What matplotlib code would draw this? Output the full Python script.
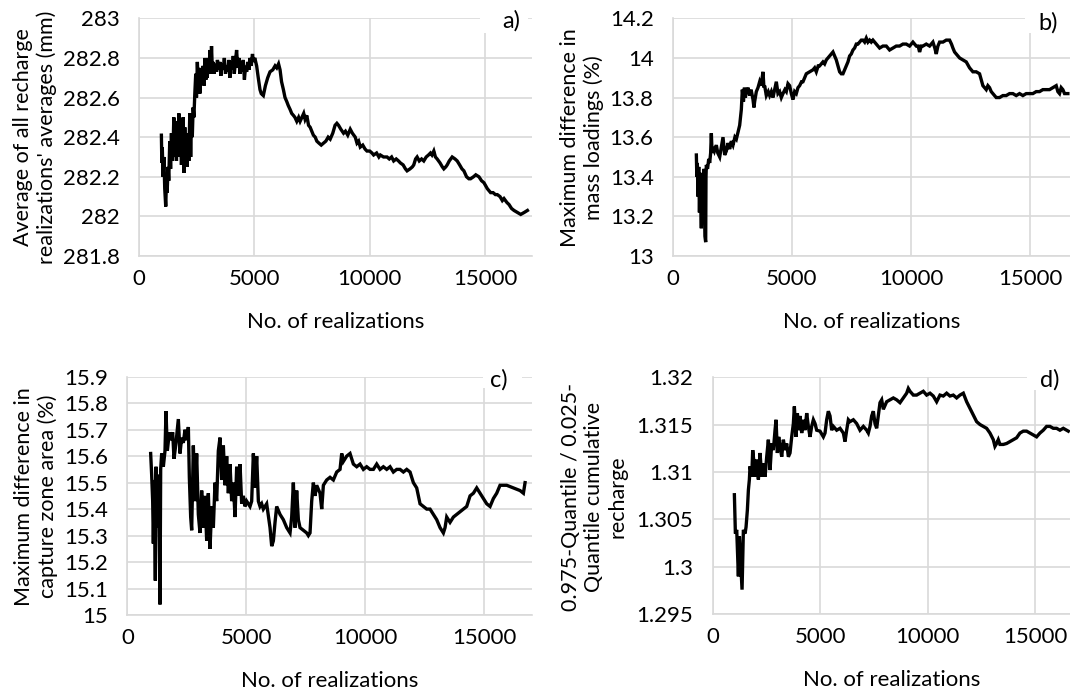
import matplotlib
matplotlib.use('Agg')
import matplotlib.pyplot as plt
from matplotlib.patches import Rectangle

# a) average of all recharge realizations' averages (mm)
real_a = [971, 990, 1010, 1043, 1080, 1116, 1159, 1188, 1220, 1261, 1290, 1333, 1370, 1406, 1440,
          1478, 1510, 1550, 1590, 1623, 1660, 1695, 1730, 1768, 1800, 1840, 1880, 1913, 1950, 1985,
          2020, 2058, 2090, 2130, 2160, 2202, 2240, 2275, 2310, 2347, 2380, 2420, 2460, 2492, 2530,
          2565, 2600, 2637, 2680, 2720, 2782, 2820, 2860, 2900, 2927, 2960, 3000, 3040, 3072, 3110,
          3144, 3180, 3217, 3260, 3300, 3362, 3400, 3450, 3507, 3550, 3600, 3651, 3700, 3750, 3796,
          3850, 3900, 3941, 3990, 4040, 4086, 4130, 4180, 4231, 4280, 4330, 4376, 4420, 4470, 4521,
          4570, 4620, 4666, 4720, 4770, 4811, 4860, 4920, 4956, 5020, 5100, 5170, 5245, 5300, 5390,
          5480, 5580, 5680, 5800, 5900, 5970, 6050, 6115, 6180, 6260, 6330, 6405, 6470, 6550, 6620,
          6694, 6760, 6840, 6920, 6984, 7060, 7140, 7200, 7274, 7350, 7420, 7491, 7560, 7640, 7709,
          7800, 7900, 7998, 8100, 8200, 8288, 8400, 8500, 8578, 8650, 8750, 8868, 8950, 9050, 9158,
          9250, 9375, 9450, 9520, 9592, 9700, 9800, 9882, 10000, 10100, 10172, 10300, 10400, 10462,
          10600, 10752, 10850, 10950, 11041, 11150, 11250, 11331, 11450, 11550, 11621, 11750, 11850,
          11911, 11990, 12056, 12150, 12250, 12345, 12450, 12550, 12635, 12700, 12780, 12850, 12925,
          13050, 13150, 13215, 13300, 13360, 13450, 13577, 13700, 13794, 13900, 14000, 14084, 14200,
          14300, 14374, 14500, 14600, 14736, 14850, 14954, 15100, 15243, 15350, 15450, 15533, 15650,
          15750, 15823, 15950, 16040, 16150, 16258, 16400, 16548, 16700, 16838]
avg_a = [282.41, 282.27, 282.35, 282.20, 282.30, 282.14, 282.05, 282.17, 282.12, 282.25, 282.18,
         282.38, 282.24, 282.42, 282.28, 282.35, 282.50, 282.30, 282.45, 282.28, 282.48, 282.33,
         282.52, 282.30, 282.42, 282.26, 282.36, 282.50, 282.22, 282.45, 282.30, 282.38, 282.25,
         282.42, 282.28, 282.52, 282.30, 282.48, 282.40, 282.55, 282.50, 282.62, 282.72, 282.60,
         282.78, 282.67, 282.75, 282.62, 282.74, 282.70, 282.76, 282.66, 282.80, 282.69, 282.78,
         282.70, 282.80, 282.72, 282.84, 282.72, 282.86, 282.74, 282.78, 282.72, 282.77, 282.73,
         282.79, 282.74, 282.78, 282.71, 282.77, 282.74, 282.80, 282.72, 282.76, 282.73, 282.79,
         282.70, 282.78, 282.74, 282.81, 282.72, 282.78, 282.84, 282.75, 282.80, 282.72, 282.78,
         282.73, 282.79, 282.69, 282.76, 282.73, 282.78, 282.74, 282.80, 282.76, 282.82, 282.78,
         282.80, 282.76, 282.70, 282.64, 282.62, 282.61, 282.66, 282.70, 282.73, 282.74, 282.76,
         282.75, 282.77, 282.74, 282.68, 282.64, 282.60, 282.58, 282.56, 282.54, 282.52, 282.51,
         282.50, 282.48, 282.50, 282.48, 282.50, 282.52, 282.49, 282.51, 282.46, 282.45, 282.43,
         282.41, 282.40, 282.38, 282.37, 282.36, 282.37, 282.38, 282.40, 282.39, 282.42, 282.46,
         282.47, 282.46, 282.44, 282.42, 282.43, 282.41, 282.44, 282.42, 282.40, 282.37, 282.38,
         282.35, 282.36, 282.34, 282.33, 282.33, 282.32, 282.31, 282.32, 282.30, 282.31, 282.30,
         282.30, 282.29, 282.30, 282.28, 282.29, 282.28, 282.27, 282.26, 282.24, 282.23, 282.24,
         282.25, 282.26, 282.29, 282.30, 282.28, 282.29, 282.28, 282.30, 282.31, 282.32, 282.31,
         282.33, 282.30, 282.29, 282.27, 282.25, 282.24, 282.25, 282.26, 282.28, 282.30, 282.29,
         282.28, 282.26, 282.24, 282.23, 282.20, 282.19, 282.19, 282.20, 282.21, 282.20, 282.18,
         282.17, 282.14, 282.12, 282.12, 282.11, 282.11, 282.10, 282.08, 282.09, 282.07, 282.06,
         282.04, 282.03, 282.02, 282.01, 282.02, 282.03]

# b) maximum difference in mass loadings (%)
real_b = [980, 1000, 1020, 1050, 1080, 1110, 1140, 1190, 1220, 1260, 1300, 1340, 1372, 1385, 1400,
          1450, 1500, 1540, 1580, 1610, 1640, 1680, 1740, 1820, 1880, 1960, 2030, 2100, 2170, 2240,
          2310, 2380, 2450, 2520, 2600, 2660, 2740, 2800, 2870, 2912, 2960, 3000, 3040, 3080, 3150,
          3220, 3280, 3360, 3400, 3430, 3500, 3570, 3640, 3700, 3780, 3820, 3850, 3920, 4000, 4060,
          4130, 4200, 4270, 4340, 4410, 4480, 4550, 4620, 4700, 4760, 4830, 4900, 4970, 5040, 5110,
          5180, 5250, 5320, 5400, 5460, 5530, 5600, 5740, 5880, 5950, 6020, 6100, 6160, 6230, 6300,
          6370, 6440, 6510, 6580, 6650, 6720, 6790, 6860, 6930, 7000, 7070, 7140, 7210, 7280, 7350,
          7420, 7490, 7560, 7630, 7700, 7770, 7840, 7910, 7980, 8050, 8120, 8190, 8260, 8330, 8400,
          8540, 8680, 8820, 8960, 9100, 9240, 9380, 9520, 9660, 9800, 9940, 10080, 10220, 10300,
          10360, 10430, 10500, 10640, 10780, 10920, 11000, 11060, 11130, 11200, 11340, 11480, 11620,
          11700, 11760, 11830, 11900, 11970, 12040, 12180, 12320, 12460, 12600, 12740, 12880, 12950,
          13020, 13090, 13160, 13230, 13300, 13370, 13440, 13580, 13720, 13860, 14000, 14140, 14280,
          14420, 14560, 14700, 14840, 14980, 15120, 15260, 15400, 15540, 15680, 15820, 15960, 16100,
          16170, 16240, 16310, 16380, 16450, 16590]
diff_b = [13.51, 13.40, 13.47, 13.30, 13.45, 13.22, 13.42, 13.14, 13.40, 13.25, 13.44, 13.10, 13.07,
          13.40, 13.46, 13.44, 13.49, 13.47, 13.52, 13.62, 13.52, 13.55, 13.53, 13.56, 13.52, 13.50,
          13.55, 13.60, 13.51, 13.53, 13.57, 13.54, 13.58, 13.56, 13.60, 13.59, 13.63, 13.66, 13.74,
          13.84, 13.78, 13.85, 13.80, 13.83, 13.85, 13.81, 13.84, 13.79, 13.75, 13.78, 13.83, 13.85,
          13.88, 13.86, 13.93, 13.85, 13.86, 13.81, 13.83, 13.81, 13.83, 13.80, 13.84, 13.88, 13.82,
          13.83, 13.80, 13.82, 13.84, 13.83, 13.87, 13.86, 13.82, 13.79, 13.83, 13.82, 13.85, 13.86,
          13.88, 13.88, 13.90, 13.92, 13.93, 13.94, 13.95, 13.93, 13.96, 13.96, 13.97, 13.98, 13.97,
          13.99, 14.00, 14.01, 14.02, 14.03, 14.01, 13.99, 13.96, 13.93, 13.92, 13.92, 13.94, 13.96,
          13.98, 14.01, 14.02, 14.04, 14.05, 14.07, 14.07, 14.08, 14.09, 14.09, 14.08, 14.10, 14.08,
          14.09, 14.08, 14.09, 14.07, 14.05, 14.06, 14.06, 14.04, 14.05, 14.06, 14.06, 14.07, 14.07,
          14.06, 14.08, 14.06, 14.06, 14.03, 14.06, 14.06, 14.07, 14.06, 14.08, 14.05, 14.02, 14.06,
          14.08, 14.08, 14.09, 14.09, 14.07, 14.05, 14.03, 14.02, 14.01, 14.00, 13.99, 13.98, 13.95,
          13.93, 13.93, 13.92, 13.89, 13.86, 13.85, 13.84, 13.86, 13.85, 13.83, 13.82, 13.80, 13.80,
          13.81, 13.81, 13.82, 13.82, 13.81, 13.82, 13.81, 13.82, 13.82, 13.82, 13.83, 13.83, 13.84,
          13.84, 13.84, 13.85, 13.86, 13.83, 13.82, 13.85, 13.84, 13.82, 13.82]

# c) maximum difference in capture zone area (%)
real_c = [981, 1023, 1066, 1094, 1136, 1178, 1206, 1262, 1318, 1374, 1402, 1444, 1514, 1584, 1626,
          1682, 1767, 1823, 1907, 1963, 2047, 2145, 2215, 2285, 2355, 2425, 2496, 2566, 2608, 2664,
          2706, 2776, 2846, 2916, 2986, 3056, 3126, 3197, 3267, 3337, 3407, 3477, 3547, 3617, 3687,
          3757, 3827, 3898, 3968, 4038, 4108, 4178, 4248, 4318, 4388, 4458, 4528, 4599, 4669, 4739,
          4809, 4879, 4949, 5019, 5159, 5229, 5300, 5370, 5440, 5510, 5580, 5650, 5720, 5860, 6001,
          6071, 6141, 6211, 6281, 6421, 6561, 6702, 6842, 6912, 6982, 7052, 7122, 7192, 7262, 7403,
          7543, 7613, 7683, 7753, 7823, 7893, 7963, 8104, 8174, 8244, 8384, 8524, 8664, 8805, 8945,
          9015, 9085, 9225, 9365, 9506, 9646, 9786, 9926, 10066, 10207, 10347, 10487, 10627, 10767,
          10908, 11048, 11188, 11328, 11468, 11609, 11749, 11889, 12029, 12169, 12310, 12450, 12590,
          12730, 12870, 13011, 13151, 13291, 13361, 13431, 13571, 13712, 13852, 13992, 14132, 14272,
          14413, 14553, 14693, 14833, 14973, 15114, 15254, 15394, 15534, 15674, 15954, 16235, 16516,
          16656, 16726]
diff_c = [15.61, 15.53, 15.43, 15.27, 15.51, 15.13, 15.56, 15.33, 15.53, 15.04, 15.55, 15.61, 15.56,
          15.62, 15.77, 15.62, 15.69, 15.66, 15.69, 15.59, 15.65, 15.74, 15.61, 15.67, 15.65, 15.70,
          15.66, 15.71, 15.52, 15.37, 15.32, 15.64, 15.43, 15.61, 15.38, 15.31, 15.47, 15.33, 15.45,
          15.28, 15.46, 15.25, 15.41, 15.33, 15.50, 15.43, 15.62, 15.67, 15.51, 15.64, 15.49, 15.60,
          15.46, 15.57, 15.43, 15.50, 15.37, 15.56, 15.45, 15.57, 15.42, 15.45, 15.41, 15.43, 15.41,
          15.43, 15.61, 15.48, 15.60, 15.43, 15.41, 15.42, 15.40, 15.42, 15.33, 15.26, 15.28, 15.35,
          15.41, 15.38, 15.36, 15.33, 15.31, 15.37, 15.50, 15.33, 15.47, 15.36, 15.33, 15.32, 15.31,
          15.30, 15.31, 15.43, 15.50, 15.45, 15.49, 15.46, 15.40, 15.49, 15.51, 15.52, 15.51, 15.54,
          15.55, 15.61, 15.58, 15.60, 15.61, 15.57, 15.56, 15.57, 15.55, 15.56, 15.55, 15.55, 15.57,
          15.55, 15.56, 15.55, 15.56, 15.54, 15.55, 15.55, 15.54, 15.55, 15.54, 15.50, 15.48, 15.42,
          15.41, 15.40, 15.40, 15.38, 15.36, 15.33, 15.31, 15.33, 15.37, 15.35, 15.37, 15.38, 15.39,
          15.40, 15.41, 15.45, 15.46, 15.48, 15.46, 15.44, 15.42, 15.41, 15.44, 15.46, 15.49, 15.49,
          15.48, 15.47, 15.46, 15.50]

# d) 0.975-quantile / 0.025-quantile cumulative recharge
real_d = [1008, 1055, 1117, 1194, 1241, 1303, 1365, 1427, 1504, 1551, 1613, 1660, 1706, 1737, 1815,
          1861, 1923, 1970, 2047, 2125, 2202, 2280, 2358, 2435, 2513, 2590, 2668, 2745, 2823, 2900,
          2947, 3009, 3071, 3133, 3211, 3288, 3366, 3443, 3521, 3598, 3676, 3753, 3800, 3878, 3940,
          4002, 4064, 4141, 4219, 4296, 4374, 4451, 4529, 4606, 4684, 4762, 4839, 4994, 5149, 5227,
          5304, 5382, 5460, 5537, 5615, 5770, 5925, 6080, 6157, 6235, 6313, 6390, 6545, 6700, 6855,
          7011, 7166, 7243, 7321, 7398, 7476, 7553, 7631, 7708, 7786, 7864, 7941, 8096, 8251, 8406,
          8562, 8717, 8872, 9027, 9104, 9182, 9337, 9492, 9647, 9802, 9957, 10113, 10268, 10423,
          10578, 10733, 10888, 11043, 11198, 11353, 11509, 11664, 11819, 11974, 12129, 12284, 12439,
          12594, 12749, 12904, 13060, 13137, 13215, 13292, 13370, 13525, 13680, 13835, 13990, 14145,
          14300, 14455, 14611, 14766, 14921, 15076, 15231, 15386, 15541, 15696, 15851, 16006, 16162,
          16317, 16472, 16549]
ratio_d = [1.3076, 1.3035, 1.3039, 1.2990, 1.3032, 1.3004, 1.2976, 1.3039, 1.3035, 1.3042, 1.3060,
           1.3081, 1.3092, 1.3106, 1.3095, 1.3123, 1.3109, 1.3095, 1.3113, 1.3092, 1.3120, 1.3095,
           1.3109, 1.3095, 1.3116, 1.3134, 1.3102, 1.3130, 1.3123, 1.3144, 1.3155, 1.3120, 1.3137,
           1.3127, 1.3116, 1.3134, 1.3123, 1.3130, 1.3116, 1.3120, 1.3137, 1.3151, 1.3169, 1.3137,
           1.3162, 1.3144, 1.3159, 1.3141, 1.3155, 1.3144, 1.3162, 1.3148, 1.3137, 1.3148, 1.3155,
           1.3151, 1.3144, 1.3143, 1.3137, 1.3141, 1.3155, 1.3164, 1.3159, 1.3144, 1.3148, 1.3144,
           1.3146, 1.3141, 1.3132, 1.3144, 1.3155, 1.3153, 1.3155, 1.3151, 1.3144, 1.3148, 1.3144,
           1.3141, 1.3148, 1.3159, 1.3164, 1.3151, 1.3146, 1.3159, 1.3173, 1.3176, 1.3166, 1.3174,
           1.3176, 1.3178, 1.3176, 1.3173, 1.3178, 1.3183, 1.3188, 1.3185, 1.3181, 1.3181, 1.3183,
           1.3185, 1.3181, 1.3183, 1.3180, 1.3174, 1.3181, 1.3180, 1.3183, 1.3180, 1.3181, 1.3178,
           1.3181, 1.3183, 1.3174, 1.3167, 1.3160, 1.3153, 1.3150, 1.3148, 1.3146, 1.3141, 1.3134,
           1.3127, 1.3130, 1.3134, 1.3129, 1.3129, 1.3130, 1.3132, 1.3134, 1.3136, 1.3141, 1.3143,
           1.3143, 1.3141, 1.3139, 1.3137, 1.3141, 1.3144, 1.3148, 1.3148, 1.3146, 1.3146, 1.3144,
           1.3146, 1.3144, 1.3143]

x_ticks = [0, 5000, 10000, 15000]
x_label = 'No. of realizations'

panels = [
    # axes rect, x data, y data, xlim, ylim, yticks, ytick labels, ylabel, ylabel pos, tag, tag pos, mask rect
    ([0.1299, 0.6311, 0.3673, 0.3425], real_a, avg_a, 17037, (281.8, 283.0),
     [281.8, 282.0, 282.2, 282.4, 282.6, 282.8, 283.0],
     ['281.8', '282', '282.2', '282.4', '282.6', '282.8', '283'],
     "Average of all recharge\nrealizations' averages (mm)", (0.033, 0.802),
     'a)', (0.947, 0.99), (0.868, 0.938, 0.122, 0.1)),
    ([0.6290, 0.6311, 0.3710, 0.3425], real_b, diff_b, 16680, (13.0, 14.2),
     [13.0, 13.2, 13.4, 13.6, 13.8, 14.0, 14.2],
     ['13', '13.2', '13.4', '13.6', '13.8', '14', '14.2'],
     'Maximum difference in\nmass loadings (%)', (0.544, 0.802),
     'b)', (0.945, 0.98), (0.887, 0.94, 0.12, 0.1)),
    ([0.1190, 0.1138, 0.3782, 0.3434], real_c, diff_c, 17018, (15.0, 15.9),
     [15.0, 15.1, 15.2, 15.3, 15.4, 15.5, 15.6, 15.7, 15.8, 15.9],
     ['15', '15.1', '15.2', '15.3', '15.4', '15.5', '15.6', '15.7', '15.8', '15.9'],
     'Maximum difference in\ncapture zone area (%)', (0.034, 0.285),
     'c)', (0.919, 0.986), (0.879, 0.953, 0.096, 0.1)),
    ([0.6661, 0.1148, 0.3339, 0.3419], real_d, ratio_d, 16630, (1.295, 1.32),
     [1.295, 1.3, 1.305, 1.31, 1.315, 1.32],
     ['1.295', '1.3', '1.305', '1.31', '1.315', '1.32'],
     '0.975-Quantile / 0.025-\nQuantile cumulative\nrecharge', (0.555, 0.284),
     'd)', (0.944, 0.987), (0.88, 0.945, 0.13, 0.1)),
]

plt.rcParams['font.family'] = ['Lato', 'DejaVu Sans']
grid_col = '#d9d9d9'

fig = plt.figure(figsize=(10.7, 6.94), dpi=100)
for rect, xs, ys, xmax, ylim, yticks, ylabels, ylab, ylab_pos, tag, tag_pos, mask in panels:
    ax = fig.add_axes(rect)
    ax.plot(xs, ys, color='black', linewidth=2.4, solid_joinstyle='miter')
    ax.set_xlim(0, xmax)
    ax.set_ylim(*ylim)
    ax.set_xticks(x_ticks)
    ax.set_xticklabels([str(t) for t in x_ticks])
    ax.set_yticks(yticks)
    ax.set_yticklabels(ylabels)
    ax.tick_params(length=0, labelsize=16, colors='black')
    ax.tick_params(axis='y', pad=14)
    ax.tick_params(axis='x', pad=9)
    ax.grid(True, color=grid_col, linewidth=1.2)
    ax.set_axisbelow(True)
    for side in ['top', 'right']:
        ax.spines[side].set_visible(False)
    for side in ['left', 'bottom']:
        ax.spines[side].set_color(grid_col)
        ax.spines[side].set_linewidth(1.2)
    ax.set_xlabel(x_label, fontsize=16, labelpad=17)
    fig.text(ylab_pos[0], ylab_pos[1], ylab, rotation=90, ha='center', va='center',
             multialignment='center', fontsize=15.5, linespacing=1.2)
    ax.add_patch(Rectangle((mask[0], mask[1]), mask[2], mask[3], transform=ax.transAxes,
                           facecolor='white', edgecolor='none', clip_on=False, zorder=5))
    ax.text(tag_pos[0], tag_pos[1], tag, transform=ax.transAxes, ha='center', va='center',
            fontsize=17, zorder=6)

fig.savefig('out.png', dpi=100)
